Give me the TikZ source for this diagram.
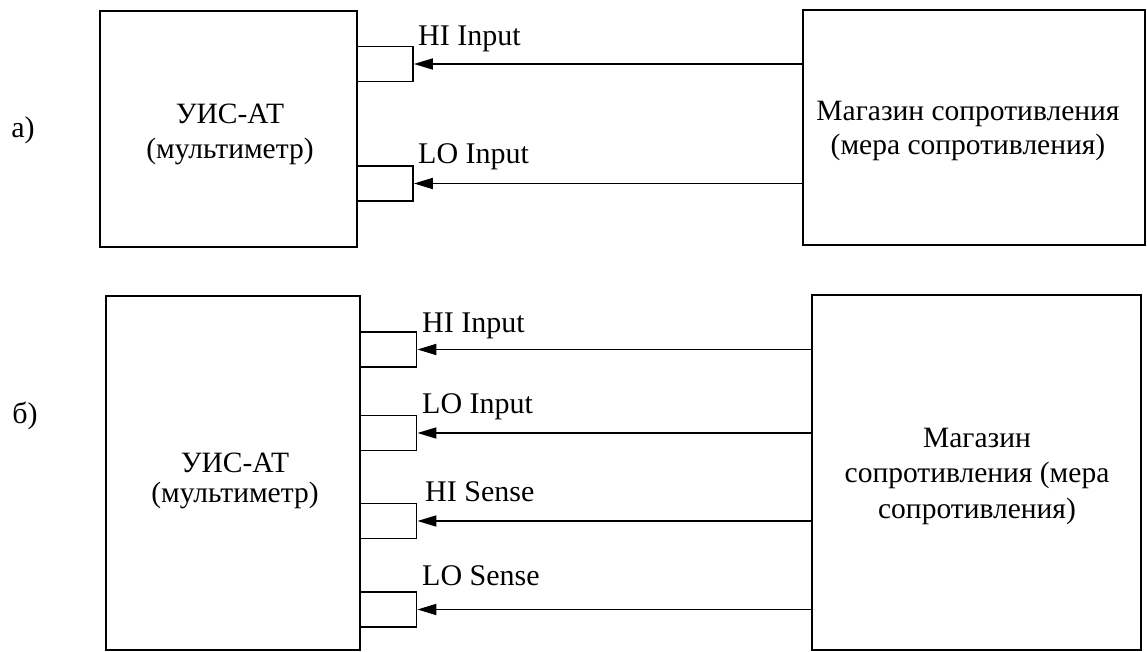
\documentclass[tikz,border=0pt]{standalone}
\usepackage{fontspec}
\setmainfont{Liberation Serif}
\usetikzlibrary{arrows.meta}
\begin{document}
\begin{tikzpicture}[x=1pt,y=-1pt,
  box/.style={draw,line width=1.8pt,inner sep=0pt},
  port/.style={draw,line width=1.8pt,minimum width=56pt,minimum height=35pt,inner sep=0pt},
  arr/.style={line width=1.8pt,-{Triangle[length=19pt,width=11pt]}},
  lbl/.style={font=\fontsize{30}{36}\selectfont,inner sep=0pt},
  boxtext/.style={font=\fontsize{29.5}{35}\selectfont,align=center,inner sep=0pt}]
\useasboundingbox (0,0) rectangle (1147,652);
% --- a) ---
\node[lbl] (la) at (23,130) {а)};
\node[box,minimum width=257pt,minimum height=236pt] (A1) at (228.5,129) {};
\node[boxtext] (A1t) at (230,134) {УИС-АТ\\(мультиметр)};
\node[box,minimum width=342pt,minimum height=235pt] (R1) at (974,127.5) {};
\node[boxtext,font=\fontsize{29.5}{34}\selectfont] (R1t) at (968,130.5) {Магазин сопротивления\\(мера сопротивления)};
\node[port] (p1) at (385,64) {};
\node[port] (p2) at (385,183.5) {};
\node[lbl,anchor=base west] (t1) at (418,46) {HI Input};
\node[lbl,anchor=base west] (t2) at (418,164) {LO Input};
\draw[arr] (p1.east -| R1.west) -- (p1.east);
\draw[arr] (p2.east -| R1.west) -- (p2.east);
% --- b) ---
\node[lbl] (lb) at (25,416) {б)};
\node[box,minimum width=254pt,minimum height=354pt] (A2) at (233,473) {};
\node[boxtext,font=\fontsize{29.5}{30}\selectfont] (A2t) at (235,481) {УИС-АТ\\(мультиметр)};
\node[box,minimum width=329pt,minimum height=355pt] (R2) at (976.5,472.5) {};
\node[boxtext,font=\fontsize{29.5}{35.5}\selectfont] (R2t) at (977,476) {Магазин\\сопротивления (мера\\сопротивления)};
\node[port] (q1) at (388.5,349.5) {};
\node[port] (q2) at (388.5,433) {};
\node[port] (q3) at (388.5,521) {};
\node[port] (q4) at (388.5,609.5) {};
\node[lbl,anchor=base west] (s1) at (422,332) {HI Input};
\node[lbl,anchor=base west] (s2) at (422,413) {LO Input};
\node[lbl,anchor=base west] (s3) at (425,501) {HI Sense};
\node[lbl,anchor=base west] (s4) at (422,585) {LO Sense};
\draw[arr] (q1.east -| R2.west) -- (q1.east);
\draw[arr] (q2.east -| R2.west) -- (q2.east);
\draw[arr] (q3.east -| R2.west) -- (q3.east);
\draw[arr] (q4.east -| R2.west) -- (q4.east);
\end{tikzpicture}
\end{document}
